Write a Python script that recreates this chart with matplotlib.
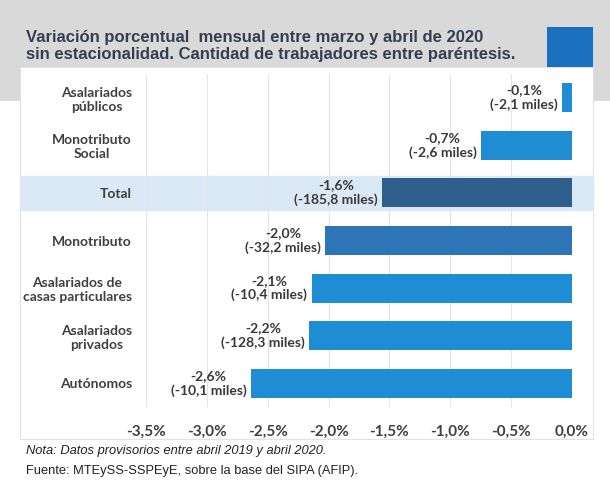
import matplotlib
matplotlib.use("Agg")
import matplotlib.pyplot as plt
from matplotlib.patches import Rectangle


# Datos
categorias = ["Asalariados\npúblicos", "Monotributo\nSocial", "Total", "Monotributo",
              "Asalariados de\ncasas particulares", "Asalariados\nprivados", "Autónomos"]
variacion = [-0.08, -0.75, -1.56, -2.03, -2.14, -2.16, -2.64]
etiquetas_pct = ["-0,1%", "-0,7%", "-1,6%", "-2,0%", "-2,1%", "-2,2%", "-2,6%"]
miles = ["-2,1", "-2,6", "-185,8", "-32,2", "-10,4", "-128,3", "-10,1"]
ticks = [-3.5, -3.0, -2.5, -2.0, -1.5, -1.0, -0.5, 0.0]
tick_labels = ["-3,5%", "-3,0%", "-2,5%", "-2,0%", "-1,5%", "-1,0%", "-0,5%", "0,0%"]

colores = ["#1f8dd3", "#1f8dd3", "#2e5f8c", "#2e75b8", "#1f8dd3", "#1f8dd3", "#1f8dd3"]

W, H = 610, 504
fig = plt.figure(figsize=(W / 100, H / 100), dpi=100)
fig.patch.set_facecolor("white")

# Fondo gris de la cabecera y panel blanco
fig.add_artist(Rectangle((0, 1 - 101 / H), 1, 101 / H, transform=fig.transFigure,
                         facecolor="#d9d9d9", edgecolor="none", zorder=0))
fig.add_artist(Rectangle((20 / W, 1 - 439 / H), 573 / W, 372 / H, transform=fig.transFigure,
                         facecolor="white", edgecolor="#e2e2e2", lw=0.8, zorder=1))
fig.add_artist(Rectangle((547 / W, 1 - 67 / H), 46 / W, 40 / H, transform=fig.transFigure,
                         facecolor="#1a70bf", edgecolor="none", zorder=1))

fig.text(26 / W, 1 - 46 / H, "Variación porcentual  mensual entre marzo y abril de 2020\n"
         "sin estacionalidad. Cantidad de trabajadores entre paréntesis.",
         family="Liberation Sans", fontweight="bold", fontsize=12, color="#333f50",
         va="center", ha="left", linespacing=1.15)

ax = fig.add_axes([146 / W, 1 - 407 / H, 426 / W, 333 / H])
ax.set_facecolor("none")
ax.set_zorder(2)

y = list(range(len(categorias)))
ax.set_xlim(-3.5, 0.0)
ax.set_ylim(6.5, -0.5)

# Banda del total
ax.axhspan(2 - 0.36, 2 + 0.36, xmin=-0.296, xmax=1.049, color="#dbe8f5",
           clip_on=False, zorder=0)

ax.barh(y, variacion, height=0.61, color=colores, zorder=3)

for yi, v, pct, m in zip(y, variacion, etiquetas_pct, miles):
    ax.annotate(pct + "\n(" + m + " miles)", xy=(v, yi), xytext=(-3, 0),
                textcoords="offset points", ha="right", va="center",
                multialignment="center", fontsize=10, fontweight="bold",
                family="Lato", color="#3a3a3a", zorder=4)

ax.set_xticks(ticks)
ax.set_xticklabels(tick_labels, family="Lato", fontweight="bold", fontsize=11, color="#404040")
ax.set_yticks(y)
ax.set_yticklabels(categorias, family="Lato", fontweight="bold", fontsize=10, color="#404040")
for lbl in ax.get_yticklabels():
    lbl.set_multialignment("center")
ax.tick_params(axis="both", length=0)
ax.tick_params(axis="x", pad=13)
ax.tick_params(axis="y", pad=10)
ax.grid(axis="x", color="#e4e4e4", lw=0.8, zorder=1)
ax.set_axisbelow(True)
for s in ax.spines.values():
    s.set_visible(False)

fig.text(26 / W, 1 - 451 / H, "Nota: Datos provisorios entre abril 2019 y abril 2020.",
         family="Liberation Sans", style="italic", fontsize=9.3, color="#222222", va="center")
fig.text(26 / W, 1 - 471 / H, "Fuente: MTEySS-SSPEyE, sobre la base del SIPA (AFIP).",
         family="Liberation Sans", fontsize=9.3, color="#222222", va="center")

fig.savefig("out.png", dpi=100)
